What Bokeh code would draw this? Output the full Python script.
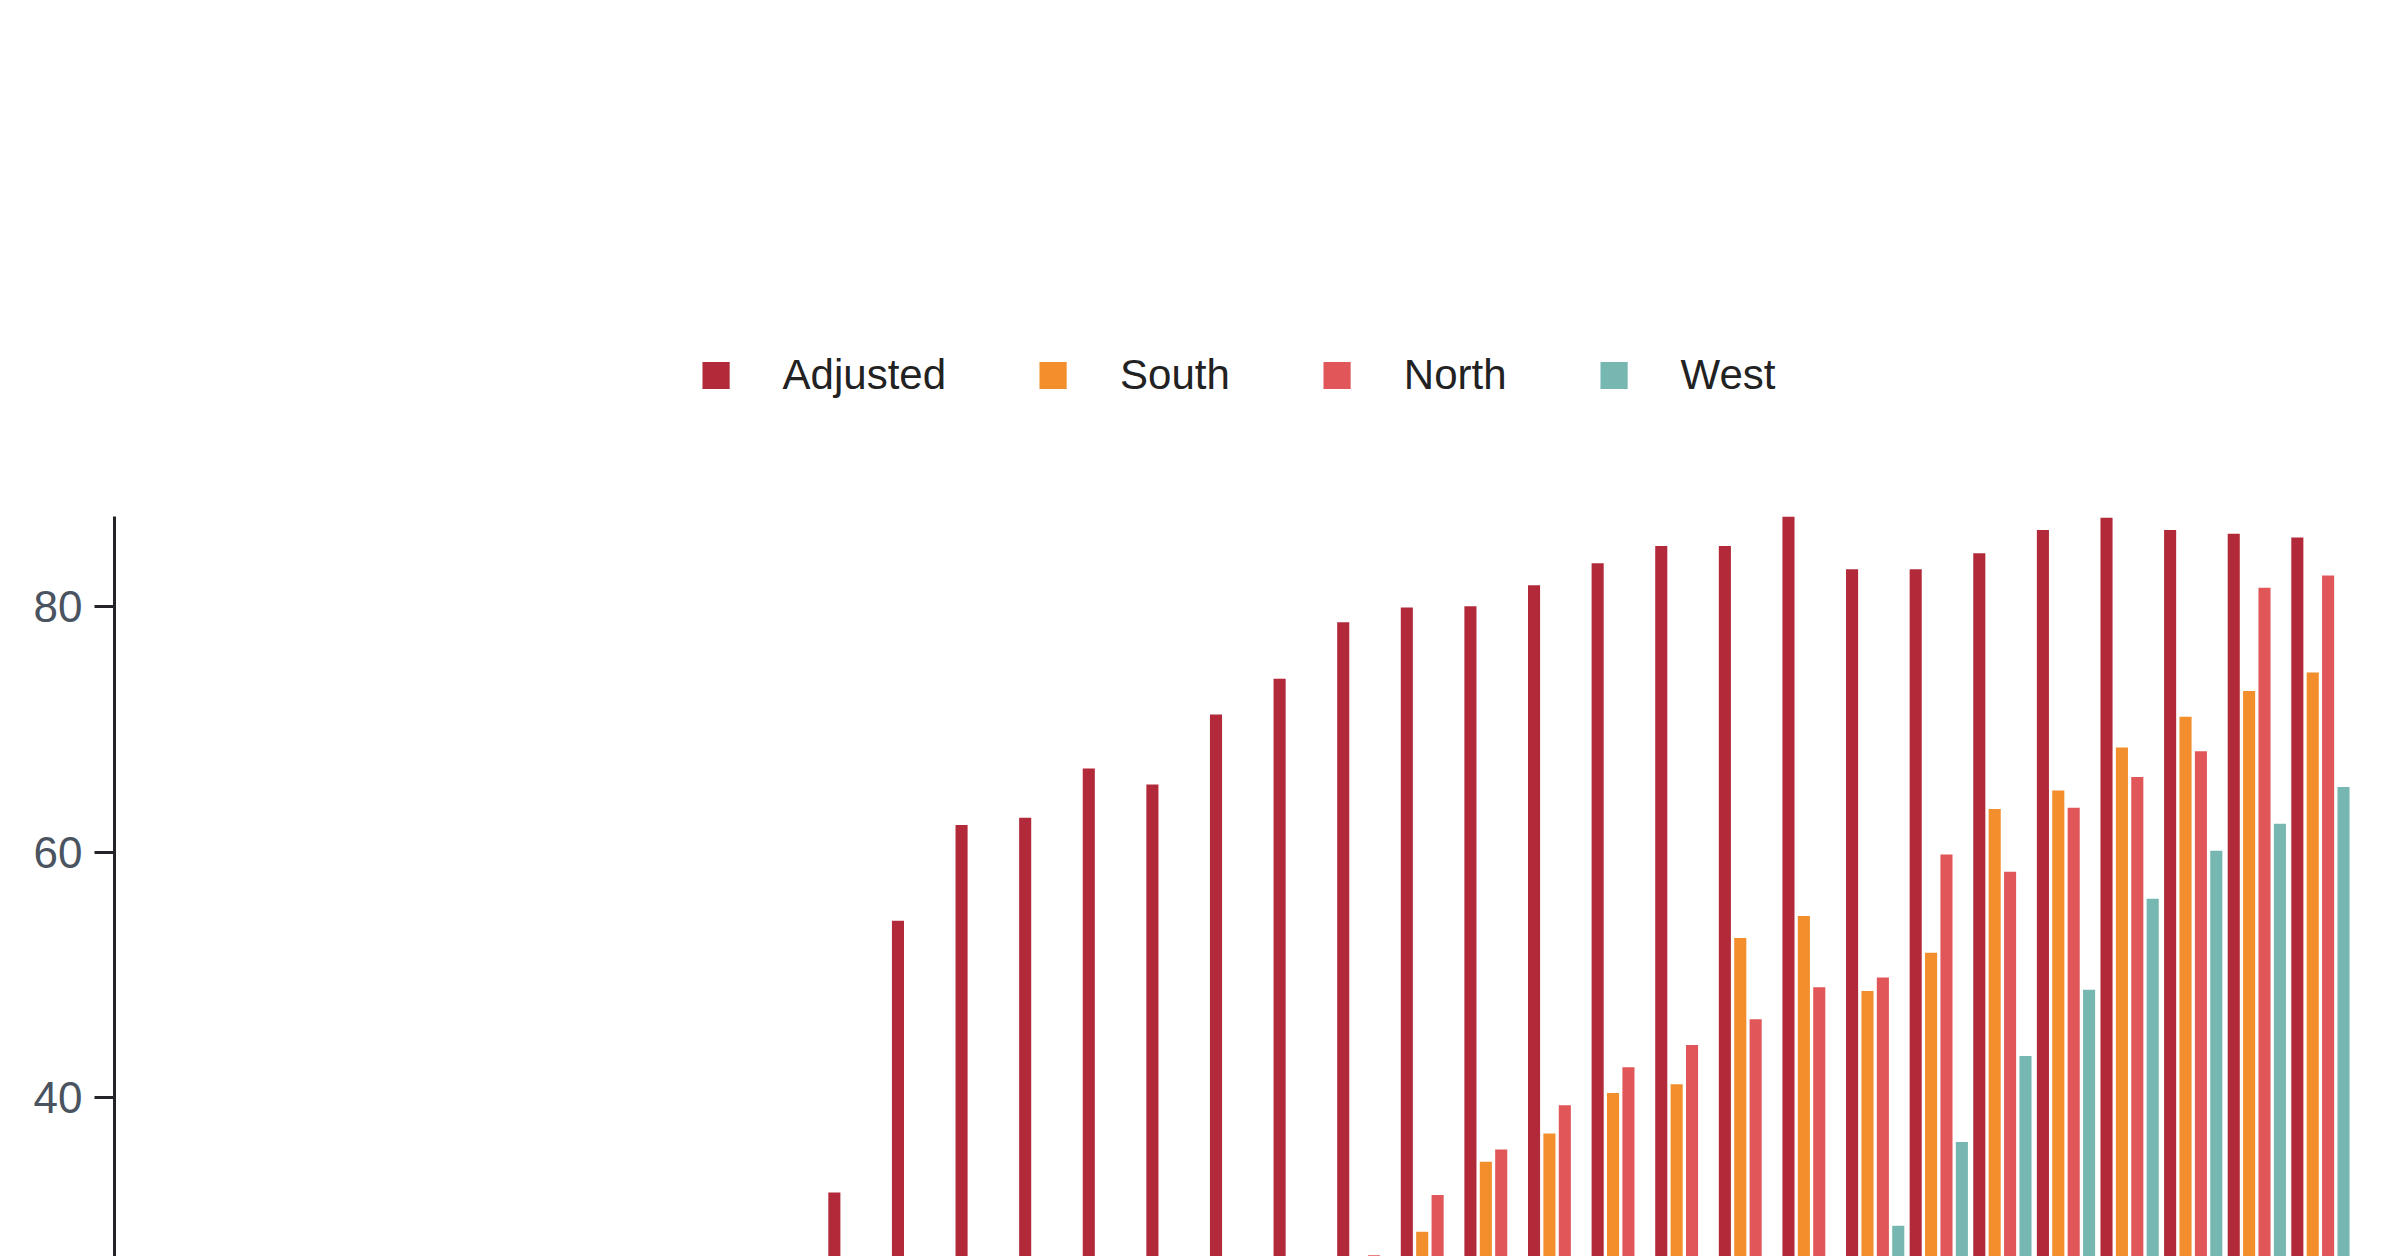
from bokeh.plotting import figure
from bokeh.models import ColumnDataSource, Legend, LegendItem, Range1d, Title, FixedTicker
from bokeh.embed import file_html
from bokeh.resources import INLINE

series = ["Adjusted", "South", "North", "West"]
colors = ["#b22a3a", "#f28e2b", "#e15759", "#76b7b2"]
adjusted = [0.3,0.3,0.3,0.5,1.0,1.8,4.0,7.2,13.3,20.6,26.0,32.3,54.4,62.2,62.8,66.8,65.5,71.2,74.1,78.7,79.9,80.0,81.7,83.5,84.9,84.9,87.3,83.0,83.0,84.3,86.2,87.2,86.2,85.9,85.6]
south = [0.3,0.3,0.3,0.3,0.3,0.3,0.3,0.6,1.2,1.8,4.8,6.7,11.4,12.3,13.5,16.4,18.5,19.7,20.5,24.8,29.1,34.8,37.1,40.4,41.1,53.0,54.8,48.7,51.8,63.5,65.0,68.5,71.0,73.1,74.6]
north = [0.3,0,0,0.3,0.3,0.3,0.3,0.3,0.3,0.6,1.7,2.5,4.3,5.9,6.9,8.0,9.9,15.1,21.3,27.2,32.1,35.8,39.4,42.5,44.3,46.4,49.0,49.8,59.8,58.4,63.6,66.1,68.2,81.5,82.5]
west = [0.3,0,0,0,0.3,0.3,0.3,0.3,0.3,0.4,0.8,1.9,2.0,2.2,2.4,3.3,4.4,5.4,7.4,6.4,10.2,11.4,13.5,13.9,15.8,20.3,23.3,29.6,36.4,43.4,48.8,56.2,60.1,62.3,65.3]
y_ticks = [0, 20, 40, 60, 80]
caption = "Air quality measurements vary by region, season, and industrial activity levels."

FONT = "Liberation Sans"
p = figure(frame_width=2246, frame_height=1073, output_backend="svg", toolbar_location=None,
           x_range=Range1d(-0.68, 34.63), y_range=Range1d(0, 87.3),
           min_border_left=114, min_border_right=16, min_border_top=0, min_border_bottom=0)
p.outline_line_color = None
p.grid.visible = False

offsets = [-0.363, -0.121, 0.121, 0.363]
items = []
for s, c, off, vals in zip(series, colors, offsets, [adjusted, south, north, west]):
    src = ColumnDataSource(dict(x=[i + off for i in range(len(vals))], top=vals))
    r = p.vbar(x="x", top="top", bottom=0, width=0.19, source=src, fill_color=c, line_color=None)
    items.append(LegendItem(label=s, renderers=[r]))

leg = Legend(items=items, orientation="horizontal", location="center",
             label_text_font=FONT, label_text_font_size="42px", label_text_color="#222222",
             glyph_width=34, glyph_height=34, spacing=90, label_standoff=50,
             border_line_color=None, padding=2, margin=8)
p.add_layout(leg, "above")

p.yaxis.ticker = FixedTicker(ticks=y_ticks)
p.yaxis.major_label_text_font = FONT
p.yaxis.major_label_text_font_size = "44px"
p.yaxis.major_label_text_color = "#4a5360"
p.yaxis.axis_line_color = "#222428"
p.yaxis.axis_line_width = 3
p.yaxis.major_tick_line_color = "#222428"
p.yaxis.major_tick_line_width = 3
p.yaxis.major_tick_out = 20
p.yaxis.major_tick_in = 0
p.yaxis.minor_tick_line_color = None
p.yaxis.major_label_standoff = 12

p.xaxis.ticker = FixedTicker(ticks=[])
p.xaxis.axis_line_color = "#dcdde3"
p.xaxis.axis_line_width = 4
p.xaxis.major_tick_line_color = None
p.xaxis.minor_tick_line_color = None
p.xaxis.major_label_standoff = 0

t = Title(text=caption, align="left", text_font=FONT, text_font_size="42px",
          text_font_style="normal", text_color="#4a5360", standoff=14)
p.add_layout(t, "below")

open("out.html", "w").write(file_html(p, INLINE))
